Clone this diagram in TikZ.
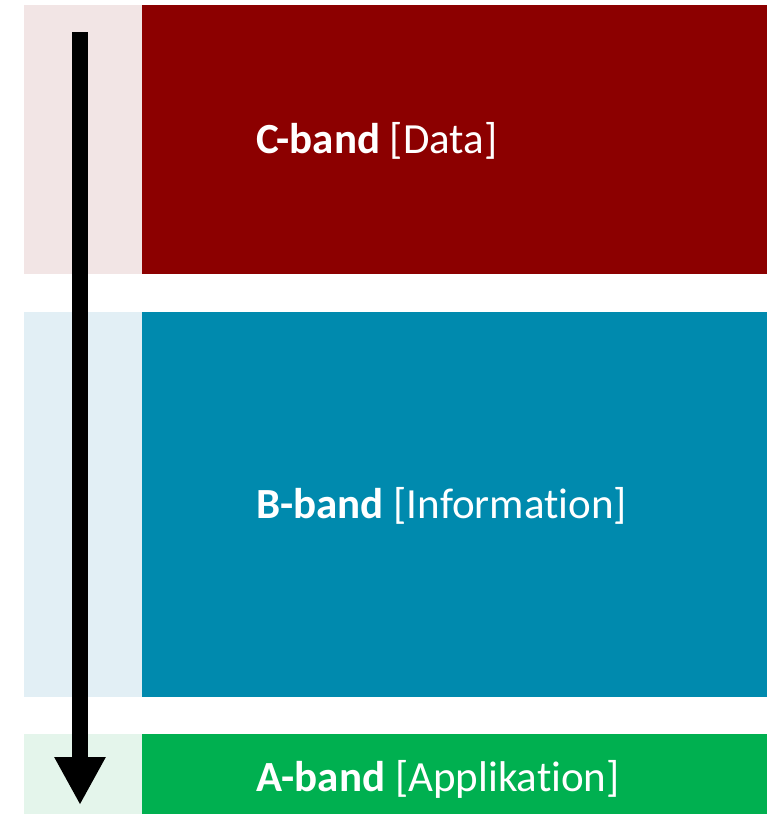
\documentclass[tikz,border=0pt]{standalone}
\usepackage{fontspec}
\setmainfont{Carlito}[Ligatures=NoCommon]
\usetikzlibrary{positioning,arrows.meta}

\definecolor{cDark}{RGB}{140,0,0}
\definecolor{cLight}{RGB}{242,229,229}
\definecolor{bDark}{RGB}{0,138,174}
\definecolor{bLight}{RGB}{226,239,245}
\definecolor{aDark}{RGB}{0,176,80}
\definecolor{aLight}{RGB}{228,245,235}

\begin{document}
\begin{tikzpicture}[x=1pt,y=-1pt]
    % -----------------------------
    % Parameters (in px of the sketch)
    % -----------------------------
    \def\stripW{118}    % width of the pale strip
    \def\bandW{625}     % width of the coloured band
    \def\txtShift{114}  % label offset from band edge
    \def\lw{16pt}       % arrow shaft width

    % -----------------------------
    % Styles
    % -----------------------------
    \tikzset{
      strip/.style={rectangle, inner sep=0pt, anchor=north west,
                    minimum width=\stripW pt},
      band/.style={rectangle, inner sep=0pt, anchor=north west,
                   minimum width=\bandW pt},
      lbl/.style={text=white, inner sep=0pt, font=\fontsize{43pt}{43pt}\selectfont},
      flow/.style={line width=\lw, black,
                   -{Triangle[width=48pt,length=48pt]}}
    }

    \useasboundingbox (0,0) rectangle (777,814);

    % -----------------------------
    % C-band
    % -----------------------------
    \node[strip, fill=cLight, minimum height=269pt] (stripC) at (24,5) {};
    \node[band, fill=cDark, minimum height=269pt] (bandC) at (142,5) {};
    \node[lbl, right=\txtShift pt of bandC.west, yshift=-1pt] (lblC) {\textbf{C-band} [Data]};

    % -----------------------------
    % B-band
    % -----------------------------
    \node[strip, fill=bLight, minimum height=385pt] (stripB) at (24,312) {};
    \node[band, fill=bDark, minimum height=385pt] (bandB) at (142,312) {};
    \node[lbl, right=\txtShift pt of bandB.west, yshift=-1pt] (lblB) {\textbf{B-band} [Information]};

    % -----------------------------
    % A-band
    % -----------------------------
    \node[strip, fill=aLight, minimum height=80pt] (stripA) at (24,734) {};
    \node[band, fill=aDark, minimum height=80pt] (bandA) at (142,734) {};
    \node[lbl, right=\txtShift pt of bandA.west, yshift=-5pt] (lblA) {\textbf{A-band} [Applikation]};

    % -----------------------------
    % Arrow across the strips
    % -----------------------------
    \coordinate (arrTop) at (80,32);
    \coordinate (arrTip) at (80,805);
    \draw[flow] (arrTop) -- (arrTip);

\end{tikzpicture}
\end{document}
